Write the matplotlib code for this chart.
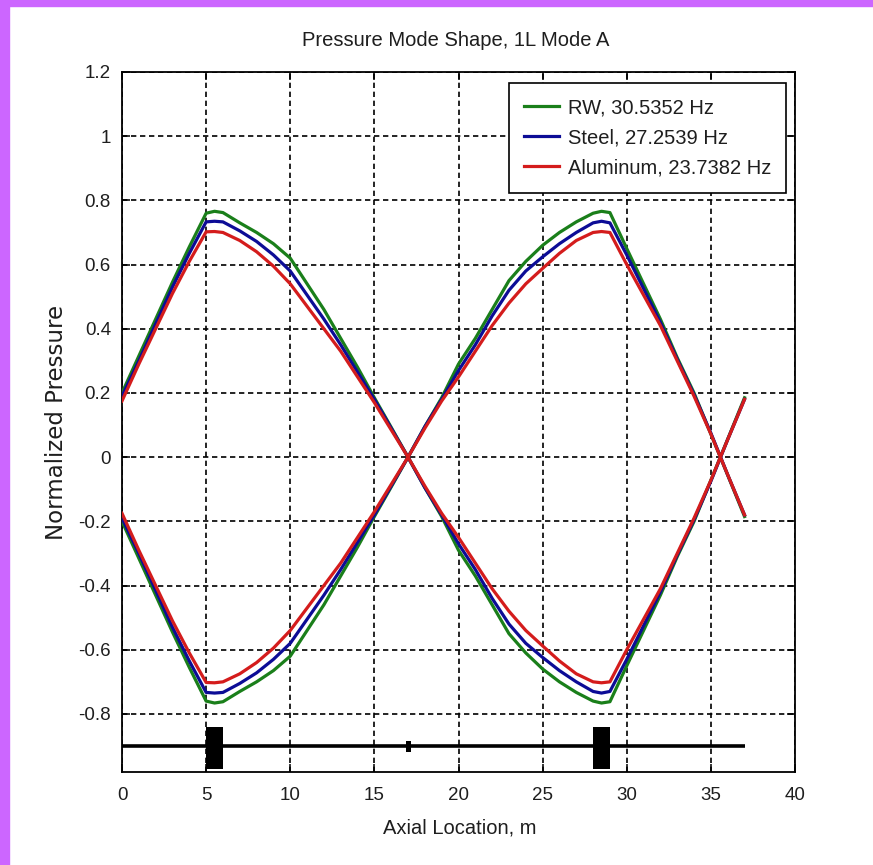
import matplotlib
matplotlib.use("Agg")
import matplotlib.pyplot as plt
from matplotlib.patches import Rectangle

# ---------------- data ----------------
x_pos = [0, 1, 2, 3, 4, 5, 5.5, 6, 7, 8, 9, 10, 11, 12, 13, 14, 15, 16, 17,
         18, 19, 20, 21, 22, 23, 24, 25, 26, 27, 28, 28.5, 29, 30, 31, 32, 33,
         34, 35, 36, 37]

rw_upper = [0.20, 0.315, 0.43, 0.545, 0.655, 0.76, 0.766, 0.762, 0.73, 0.70,
            0.665, 0.62, 0.54, 0.46, 0.37, 0.28, 0.185, 0.093, 0.0,
            -0.095, -0.185, -0.29, -0.37, -0.46, -0.55, -0.61, -0.66, -0.70,
            -0.733, -0.76, -0.766, -0.762, -0.65, -0.54, -0.43, -0.31, -0.20,
            -0.072, 0.056, 0.185]
rw_lower = [-0.20, -0.315, -0.43, -0.545, -0.655, -0.76, -0.766, -0.762, -0.73,
            -0.70, -0.665, -0.62, -0.54, -0.46, -0.37, -0.28, -0.185, -0.093,
            0.0, 0.095, 0.185, 0.29, 0.37, 0.46, 0.55, 0.61, 0.66, 0.70, 0.733,
            0.76, 0.766, 0.762, 0.65, 0.54, 0.43, 0.31, 0.20, 0.072, -0.056,
            -0.185]

steel_upper = [0.19, 0.30, 0.415, 0.53, 0.635, 0.733, 0.735, 0.733, 0.705,
               0.672, 0.63, 0.58, 0.505, 0.43, 0.35, 0.265, 0.18, 0.09, 0.0,
               -0.095, -0.18, -0.27, -0.35, -0.44, -0.52, -0.58, -0.624,
               -0.665, -0.70, -0.73, -0.735, -0.73, -0.63, -0.525, -0.42,
               -0.305, -0.195, -0.075, 0.055, 0.18]
steel_lower = [-0.19, -0.30, -0.415, -0.53, -0.635, -0.733, -0.735, -0.733,
               -0.705, -0.672, -0.63, -0.58, -0.505, -0.43, -0.35, -0.265,
               -0.18, -0.09, 0.0, 0.095, 0.18, 0.27, 0.35, 0.44, 0.52, 0.58,
               0.624, 0.665, 0.70, 0.73, 0.735, 0.73, 0.63, 0.525, 0.42, 0.305,
               0.195, 0.075, -0.055, -0.18]

alu_upper = [0.175, 0.29, 0.40, 0.51, 0.61, 0.702, 0.703, 0.70, 0.675, 0.64,
             0.595, 0.54, 0.47, 0.40, 0.33, 0.25, 0.17, 0.085, 0.0,
             -0.09, -0.175, -0.25, -0.33, -0.41, -0.48, -0.54, -0.588, -0.635,
             -0.675, -0.70, -0.703, -0.70, -0.60, -0.505, -0.41, -0.30, -0.19,
             -0.072, 0.055, 0.18]
alu_lower = [-0.175, -0.29, -0.40, -0.51, -0.61, -0.702, -0.703, -0.70, -0.675,
             -0.64, -0.595, -0.54, -0.47, -0.40, -0.33, -0.25, -0.17, -0.085,
             0.0, 0.09, 0.175, 0.25, 0.33, 0.41, 0.48, 0.54, 0.588, 0.635,
             0.675, 0.70, 0.703, 0.70, 0.60, 0.505, 0.41, 0.30, 0.19, 0.072,
             -0.055, -0.18]

series_labels = ["RW, 30.5352 Hz", "Steel, 27.2539 Hz", "Aluminum, 23.7382 Hz"]

# structure schematic (axis line and supports)
struct_x = [0, 37]
struct_y = [-0.9, -0.9]
block_centers = [5.5, 28.5]
block_widths = [1.0, 1.0]
block_bottom = -0.972
block_height = 0.131
joint_x = [17.0]

x_ticks = [0, 5, 10, 15, 20, 25, 30, 35, 40]
x_ticklabels = ["0", "5", "10", "15", "20", "25", "30", "35", "40"]
y_ticks = [-0.8, -0.6, -0.4, -0.2, 0, 0.2, 0.4, 0.6, 0.8, 1.0, 1.2]
y_ticklabels = ["-0.8", "-0.6", "-0.4", "-0.2", "0", "0.2", "0.4", "0.6",
                "0.8", "1", "1.2"]

title = "Pressure Mode Shape, 1L Mode A"
xlabel = "Axial Location, m"
ylabel = "Normalized Pressure"

# ---------------- style ----------------
W, H = 873, 865
fig = plt.figure(figsize=(W / 100, H / 100), dpi=100)
fig.patch.set_facecolor("white")

font = "Liberation Sans"
txt_color = "#1e1e1e"

ax = fig.add_axes([122 / W, 1 - 771.7 / H, (795 - 122) / W, (771.7 - 72) / H])

c_rw = "#1a7f1a"
c_st = "#0c0c96"
c_al = "#d41c1c"
lw = 2.3

ax.plot(x_pos, rw_upper, color=c_rw, lw=lw, label=series_labels[0], zorder=3)
ax.plot(x_pos, rw_lower, color=c_rw, lw=lw, zorder=3)
ax.plot(x_pos, steel_upper, color=c_st, lw=lw, label=series_labels[1], zorder=4)
ax.plot(x_pos, steel_lower, color=c_st, lw=lw, zorder=4)
ax.plot(x_pos, alu_upper, color=c_al, lw=lw, label=series_labels[2], zorder=5)
ax.plot(x_pos, alu_lower, color=c_al, lw=lw, zorder=5)

# structure
ax.plot(struct_x, struct_y, color="black", lw=2.6, solid_capstyle="butt", zorder=6)
ax.bar(block_centers, [block_height] * len(block_centers), width=block_widths,
       bottom=block_bottom, color="black", zorder=7)
ax.bar(joint_x, [0.035], width=0.3, bottom=-0.918, color="black", zorder=7)

ax.set_xlim(0, 40)
ax.set_ylim(-0.98, 1.2)
ax.set_xticks(x_ticks)
ax.set_xticklabels(x_ticklabels)
ax.set_yticks(y_ticks)
ax.set_yticklabels(y_ticklabels)

ax.grid(True, color="black", lw=1.2, linestyle=(0, (3.2, 2.2)), zorder=1)
ax.set_axisbelow(True)
for s in ax.spines.values():
    s.set_linewidth(1.3)
    s.set_color("black")

ax.tick_params(direction="in", length=6, width=1.1, top=True, right=True,
               labelsize=13.5, colors="black", labelcolor=txt_color)
ax.tick_params(axis="x", pad=11)
ax.tick_params(axis="y", pad=8)
for t in ax.get_xticklabels() + ax.get_yticklabels():
    t.set_fontfamily(font)

fig.text(456 / W, 1 - 40 / H, title, ha="center", va="center",
         fontsize=14.5, family=font, color=txt_color)
fig.text(460 / W, 1 - 828 / H, xlabel, ha="center", va="center",
         fontsize=14.5, family=font, color=txt_color)
fig.text(57 / W, 1 - 422 / H, ylabel, ha="center", va="center", rotation=90,
         fontsize=16.5, family="DejaVu Sans", color=txt_color)

leg = ax.legend(loc="upper right", bbox_to_anchor=(0.987, 0.984),
                prop={"family": font, "size": 14.5}, frameon=True,
                fancybox=False, framealpha=1, edgecolor="black",
                handlelength=1.7, labelspacing=0.55,
                borderpad=0.75, handletextpad=0.45, borderaxespad=0)
leg.get_frame().set_linewidth(1.2)
for t in leg.get_texts():
    t.set_color(txt_color)

# purple page border
fig.patches.append(Rectangle((0, 0), 9 / W, 1, transform=fig.transFigure,
                             color="#cc66ff", zorder=0))
fig.patches.append(Rectangle((0, 1 - 6 / H), 1, 6 / H, transform=fig.transFigure,
                             color="#cc66ff", zorder=0))

fig.savefig("out.png", dpi=100)
